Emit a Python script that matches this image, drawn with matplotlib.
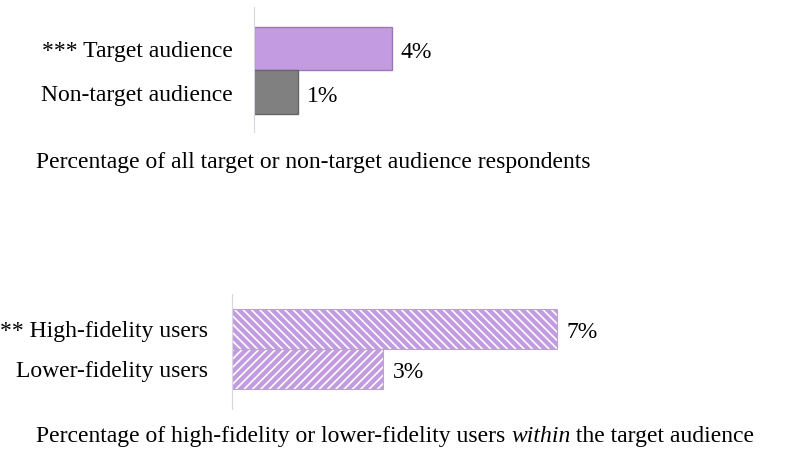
import matplotlib.pyplot as plt

plt.rcParams['font.family'] = 'Liberation Serif'
plt.rcParams['hatch.linewidth'] = 1.2

# data
audience_labels = ['*** Target audience', 'Non-target audience']
audience_values = [4.2, 1.35]
audience_text = ['4%', '1%']

fidelity_labels = ['** High-fidelity users', 'Lower-fidelity users']
fidelity_values = [7.0, 3.25]
fidelity_text = ['7%', '3%']

W, H = 807, 456
fig = plt.figure(figsize=(W / 100, H / 100), dpi=100)

purple = '#c39be0'
purple_edge = '#9a78b8'
grey = '#808080'
axis_col = '#d5d8e0'
fs = 17


def make_axes(x0, y0, x1, y1):
    # pixel box -> figure coords
    return fig.add_axes([x0 / W, 1 - y1 / H, (x1 - x0) / W, (y1 - y0) / H])


# ---- top chart
ax1 = make_axes(254, 8, 654, 133)
px_per_unit = 138 / 4.2
ax1.set_xlim(0, 400 / px_per_unit)
ax1.set_ylim(1 + 40 / 43.5, -41.5 / 43.5)
ax1.barh([0, 1], audience_values, height=1.0,
         color=[purple, grey], edgecolor=[purple_edge, '#666666'], linewidth=1)
for i, (v, t) in enumerate(zip(audience_values, audience_text)):
    ax1.annotate(t, (v, i + 0.08), xytext=(6, 0), textcoords='offset points',
                 va='center', ha='left', fontsize=fs)
ax1.set_yticks([0, 1])
ax1.set_yticklabels(audience_labels, fontsize=fs)
ax1.tick_params(axis='y', length=0, pad=15.5)
ax1.set_xticks([])
for s in ['top', 'right', 'bottom']:
    ax1.spines[s].set_visible(False)
ax1.spines['left'].set_color(axis_col)
ax1.patch.set_alpha(0)

fig.text(36 / W, 1 - 163 / H,
         'Percentage of all target or non-target audience respondents',
         fontsize=fs, va='center', ha='left')

# ---- bottom chart
ax2 = make_axes(232, 295, 682, 410)
px_per_unit2 = 325 / 7.0
ax2.set_xlim(0, 450 / px_per_unit2)
ax2.set_ylim(1 + 40.5 / 40, -34.5 / 40)
hatches = ['\\\\\\\\', '////']
for i, (v, h) in enumerate(zip(fidelity_values, hatches)):
    ax2.barh(i, v, height=1.0, color=purple, edgecolor='white', hatch=h, linewidth=0)
    ax2.barh(i, v, height=1.0, fill=False, edgecolor='#b9a5cc', linewidth=0.8)
for i, (v, t) in enumerate(zip(fidelity_values, fidelity_text)):
    ax2.annotate(t, (v, i + 0.08), xytext=(7, 0), textcoords='offset points',
                 va='center', ha='left', fontsize=fs)
ax2.set_yticks([0, 1])
ax2.set_yticklabels(fidelity_labels, fontsize=fs)
ax2.tick_params(axis='y', length=0, pad=17.5)
ax2.set_xticks([])
for s in ['top', 'right', 'bottom']:
    ax2.spines[s].set_visible(False)
ax2.spines['left'].set_color(axis_col)
ax2.patch.set_alpha(0)

t1 = fig.text(36 / W, 1 - 437 / H,
              'Percentage of high-fidelity or lower-fidelity users ',
              fontsize=fs, va='center', ha='left')
t2 = fig.text(0, 0, 'within', fontsize=fs, style='italic', va='center', ha='left')
t3 = fig.text(0, 0, ' the target audience', fontsize=fs, va='center', ha='left')
fig.canvas.draw()
r = fig.canvas.get_renderer()
bb = t1.get_window_extent(r)
t2.set_position((bb.x1 / W, t1.get_position()[1]))
fig.canvas.draw()
bb2 = t2.get_window_extent(r)
t3.set_position((bb2.x1 / W, t1.get_position()[1]))

fig.savefig('out.png', dpi=100)
